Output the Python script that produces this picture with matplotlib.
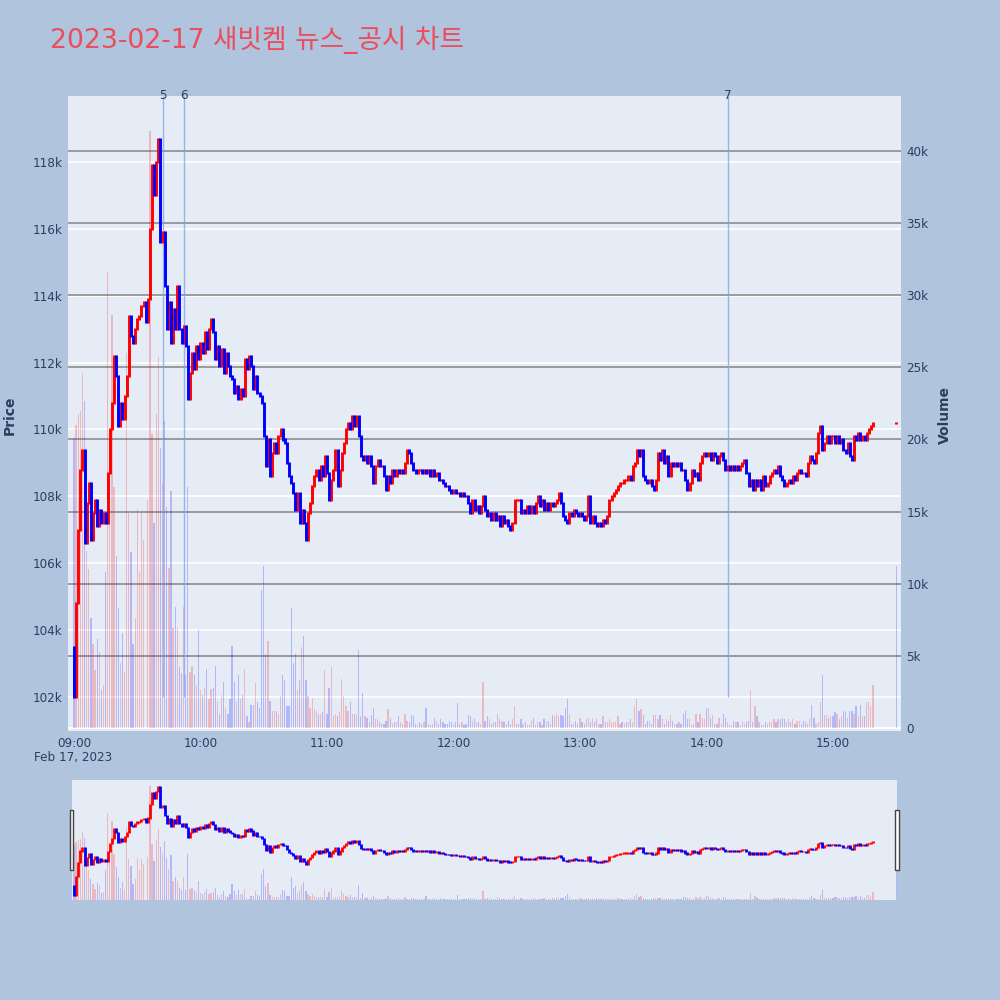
import matplotlib
matplotlib.use('Agg')
import matplotlib.pyplot as plt
from matplotlib.patches import Rectangle
import numpy as np
import pandas as pd

plt.rcParams['font.family'] = ['DejaVu Sans', 'Noto Sans CJK KR']

title = '2023-02-17 새빗켐 뉴스_공시 차트'

# 1-minute closes from 09:00 to 15:19 (in thousand won), then the 15:30 auction
closes_k = [
    102.0, 104.8, 107.0, 108.8, 109.4, 106.6, 107.8, 108.4, 106.7, 107.5,
    107.9, 107.1, 107.6, 107.2, 107.5, 107.2, 108.7, 110.0, 110.8, 112.2,
    111.6, 110.1, 110.8, 110.3, 111.0, 111.6, 113.4, 112.8, 112.6, 113.0,
    113.3, 113.4, 113.7, 113.8, 113.2, 113.9, 116.0, 117.9, 117.0, 118.0,
    118.7, 115.6, 115.9, 114.3, 113.0, 113.8, 112.6, 113.6, 113.0, 114.3,
    113.0, 112.6, 113.1, 112.5, 110.9, 111.7, 112.3, 111.8, 112.5, 112.1,
    112.6, 112.3, 112.9, 112.4, 113.0, 113.3, 112.9, 112.1, 112.5, 111.9,
    112.4, 111.7, 112.3, 111.9, 111.6, 111.5, 111.1, 111.3, 110.9, 111.2,
    111.0, 112.1, 111.8, 112.2, 111.9, 111.2, 111.6, 111.1, 111.0, 110.8,
    109.8, 108.9, 109.7, 108.6, 109.3, 109.6, 109.3, 109.8, 110.0, 109.7,
    109.6, 109.0, 108.6, 108.4, 108.1, 107.6, 108.1, 107.2, 107.6, 107.2,
    106.7, 107.5, 107.8, 108.3, 108.6, 108.8, 108.5, 108.9, 108.6, 109.2,
    108.7, 107.9, 108.5, 108.8, 109.4, 108.3, 108.8, 109.3, 109.6, 110.0,
    110.2, 110.0, 110.4, 110.1, 110.4, 109.8, 109.2, 109.1, 109.2, 109.0,
    109.2, 108.9, 108.4, 108.9, 109.1, 108.9, 108.9, 108.6, 108.2, 108.6,
    108.4, 108.8, 108.6, 108.8, 108.7, 108.8, 108.7, 109.0, 109.4, 109.3,
    109.0, 108.8, 108.7, 108.8, 108.8, 108.7, 108.8, 108.7, 108.8, 108.6,
    108.8, 108.6, 108.7, 108.5, 108.5, 108.4, 108.3, 108.3, 108.2, 108.1,
    108.2, 108.1, 108.1, 108.0, 108.1, 108.0, 108.0, 107.8, 107.5, 107.9,
    107.6, 107.7, 107.5, 107.7, 108.0, 107.6, 107.4, 107.5, 107.3, 107.5,
    107.3, 107.4, 107.1, 107.4, 107.2, 107.3, 107.1, 107.0, 107.2, 107.9,
    107.9, 107.9, 107.5, 107.6, 107.5, 107.7, 107.5, 107.7, 107.5, 107.8,
    108.0, 107.7, 107.9, 107.6, 107.8, 107.6, 107.8, 107.7, 107.8, 107.9,
    108.1, 107.8, 107.4, 107.3, 107.2, 107.5, 107.4, 107.6, 107.5, 107.4,
    107.5, 107.4, 107.3, 107.4, 108.0, 107.2, 107.4, 107.2, 107.1, 107.2,
    107.1, 107.3, 107.2, 107.4, 107.9, 108.0, 108.1, 108.2, 108.3, 108.4,
    108.4, 108.5, 108.5, 108.6, 108.5, 108.9, 109.0, 109.4, 109.2, 109.4,
    108.6, 108.5, 108.4, 108.5, 108.3, 108.2, 108.5, 109.3, 109.1, 109.4,
    109.0, 109.2, 108.6, 109.0, 108.9, 109.0, 108.9, 109.0, 108.8, 108.8,
    108.5, 108.2, 108.4, 108.8, 108.6, 108.7, 108.5, 109.0, 109.2, 109.3,
    109.2, 109.3, 109.1, 109.3, 109.2, 109.0, 109.2, 109.3, 109.1, 108.8,
    108.9, 108.8, 108.9, 108.8, 108.9, 108.8, 108.9, 109.0, 109.1, 108.7,
    108.3, 108.5, 108.2, 108.5, 108.3, 108.5, 108.2, 108.6, 108.3, 108.4,
    108.6, 108.7, 108.8, 108.7, 108.9, 108.6, 108.5, 108.3, 108.4, 108.5,
    108.4, 108.6, 108.5, 108.7, 108.8, 108.7, 108.7, 108.6, 109.0, 109.2,
    109.1, 109.0, 109.3, 109.9, 110.1, 109.4, 109.6, 109.8, 109.6, 109.8,
    109.8, 109.6, 109.8, 109.6, 109.7, 109.4, 109.3, 109.6, 109.2, 109.1,
    109.8, 109.7, 109.9, 109.7, 109.8, 109.7, 109.9, 110.0, 110.1, 110.2,
    110.2,
]
first_open_k = 103.5

# volume per minute (thousand shares), same order as closes
volume_k = [
    20.0, 21.0, 21.8, 22.0, 24.6, 22.7, 12.3, 11.0, 7.6, 5.8,
    4.0, 6.2, 5.3, 2.6, 3.0, 10.8, 31.6, 20.0, 28.6, 16.7,
    11.9, 8.3, 4.5, 6.6, 3.9, 26.0, 14.9, 12.2, 5.8, 7.6,
    15.2, 10.8, 15.0, 13.0, 0.0, 15.8, 41.4, 20.4, 14.2, 21.8,
    25.7, 19.4, 17.0, 21.3, 15.3, 11.1, 16.4, 6.9, 8.4, 6.9,
    4.2, 3.8, 8.4, 3.7, 16.7, 3.9, 4.3, 3.7, 3.0, 6.8,
    2.6, 2.3, 2.8, 4.1, 2.0, 2.7, 2.8, 4.3, 1.8, 1.0,
    2.3, 3.2, 1.4, 1.0, 2.0, 5.7, 3.2, 1.8, 3.7, 2.0,
    2.3, 4.1, 0.8, 0.4, 1.6, 1.6, 3.1, 1.8, 1.4, 9.6,
    11.2, 5.1, 6.0, 1.9, 1.2, 1.2, 1.2, 1.0, 2.2, 3.7,
    3.3, 1.5, 1.5, 8.3, 4.5, 5.1, 2.6, 3.3, 5.6, 6.4,
    3.3, 2.2, 1.4, 2.1, 1.3, 1.2, 1.0, 1.0, 1.1, 4.0,
    1.0, 2.8, 4.2, 0.8, 1.0, 0.8, 1.1, 3.4, 2.2, 1.5,
    1.2, 1.8, 1.0, 1.0, 1.0, 5.4, 0.8, 2.4, 0.8, 0.7,
    0.4, 0.9, 1.4, 0.6, 0.6, 0.4, 0.3, 0.3, 0.5, 1.3,
    0.7, 0.3, 0.4, 0.4, 0.8, 0.4, 0.3, 1.0, 0.5, 0.4,
    0.9, 0.8, 0.3, 0.2, 0.4, 0.3, 0.4, 1.4, 0.3, 0.2,
    0.3, 0.7, 0.5, 0.3, 0.6, 0.4, 0.3, 0.3, 0.5, 0.4,
    0.3, 0.4, 1.7, 0.3, 0.4, 0.2, 0.3, 0.9, 0.8, 0.5,
    0.6, 0.4, 0.4, 0.3, 3.2, 0.5, 0.8, 0.6, 0.3, 0.4,
    0.4, 1.0, 0.6, 0.5, 0.4, 0.3, 0.5, 0.3, 0.6, 1.5,
    0.3, 0.3, 0.6, 0.3, 0.4, 0.2, 0.2, 0.5, 0.7, 0.2,
    0.4, 0.4, 0.2, 0.6, 0.4, 0.5, 0.3, 0.9, 0.8, 1.0,
    0.8, 0.9, 0.8, 1.4, 2.0, 1.0, 0.3, 0.3, 0.5, 0.3,
    0.7, 0.4, 0.3, 0.6, 0.7, 0.4, 0.7, 0.4, 0.6, 0.3,
    0.3, 0.8, 0.4, 0.4, 0.6, 0.4, 0.4, 0.4, 0.8, 0.3,
    0.4, 0.3, 0.4, 0.4, 0.6, 0.4, 1.5, 2.0, 1.2, 1.3,
    0.9, 0.3, 0.5, 0.5, 0.3, 0.9, 0.9, 0.6, 0.9, 0.6,
    0.3, 0.6, 0.5, 0.9, 0.5, 0.3, 0.3, 0.4, 0.3, 1.0,
    1.2, 0.6, 0.6, 0.2, 0.3, 1.0, 0.4, 1.0, 0.7, 0.6,
    1.4, 1.4, 0.7, 0.9, 0.3, 0.3, 0.7, 0.3, 1.0, 0.7,
    0.4, 0.2, 0.2, 0.5, 0.4, 0.4, 0.2, 0.5, 0.3, 0.4,
    0.5, 2.6, 0.4, 1.5, 0.8, 0.4, 0.2, 0.2, 0.4, 0.3,
    0.4, 0.4, 0.6, 0.4, 0.6, 0.6, 0.7, 0.6, 0.4, 0.6,
    0.4, 0.6, 0.3, 0.5, 0.5, 0.3, 0.5, 0.4, 0.3, 0.6,
    1.6, 0.7, 0.3, 0.4, 1.8, 3.7, 0.9, 0.9, 0.7, 0.8,
    0.8, 1.1, 1.0, 0.6, 0.8, 1.2, 1.1, 0.7, 1.2, 1.2,
    1.0, 1.5, 0.9, 1.6, 0.8, 0.8, 1.8, 1.8, 1.5, 3.0,
    11.2,
]

# news / disclosure markers
news_labels = ['5', '6', '7']
news_times = ['09:42', '09:52', '14:10']

day = '2023-02-17'
times = list(pd.date_range(day + ' 09:00', periods=len(closes_k) - 1, freq='1min'))
times.append(pd.Timestamp(day + ' 15:30'))
times = pd.DatetimeIndex(times)

close = np.array(closes_k) * 1000
opn = np.concatenate([[first_open_k * 1000], close[:-1]])
vol = np.array(volume_k) * 1000
up = close >= opn
vol_up = close > opn

RED, BLUE = '#ff0000', '#0000ff'
PAPER, PLOTBG = '#b0c4de', '#e5ecf6'
TXT = '#2a3f5f'
FS = 8.64

fig = plt.figure(figsize=(10, 10), dpi=100, facecolor=PAPER)


def t(minutes):
    return pd.Timestamp(day + ' 09:00') + pd.Timedelta(minutes=minutes)


# ---------- main chart ----------
P_LO, P_HI = 100983, 119972
V_LO, V_HI = -208, 43810

ax = fig.add_axes([0.068, 0.269, 0.833, 0.635])
axv = ax.twinx()
axv.patch.set_visible(True)
axv.set_facecolor(PLOTBG)
ax.set_zorder(axv.get_zorder() + 1)
ax.patch.set_visible(False)

ax.set_xlim(t(-2.85), t(392.3))
ax.set_ylim(P_LO, P_HI)
axv.set_ylim(V_LO, V_HI)

# price grid, placed on the volume axes so it sits behind the bars
for p in range(102000, 120000, 2000):
    frac = (p - P_LO) / (P_HI - P_LO)
    axv.axhline(V_LO + frac * (V_HI - V_LO), color='white', lw=1.2, zorder=0)

# volume bars
bar_w = 0.6 / 1440
axv.bar(times[vol_up], vol[vol_up], width=bar_w, color=RED, alpha=0.22, zorder=2)
axv.bar(times[~vol_up], vol[~vol_up], width=bar_w, color=BLUE, alpha=0.22, zorder=2)
for v in range(5000, 45000, 5000):
    axv.axhline(v, color='#8c8c8c', lw=1.2, zorder=1)
axv.axhline(0, color='white', lw=1.5, zorder=1)

# candles (body plus the outline plotly draws around it)
pad = 30
lo = np.minimum(opn, close) - pad
hi = np.maximum(opn, close) + pad
ax.vlines(times[up], lo[up], hi[up], color=RED, lw=2.1, capstyle='butt', zorder=3)
ax.vlines(times[~up], lo[~up], hi[~up], color=BLUE, lw=2.1, capstyle='butt', zorder=3)

# news lines
for lab, tm in zip(news_labels, news_times):
    xt = pd.Timestamp(day + ' ' + tm)
    ax.vlines(xt, 102000, P_HI, color='#8aa2ea', lw=1, alpha=0.8, zorder=2)
    ax.text(xt, P_HI, lab, color=TXT, fontsize=FS, ha='center', va='center')

# axes styling
for a in (ax, axv):
    for s in a.spines.values():
        s.set_visible(False)
ax.set_yticks(range(102000, 120000, 2000))
ax.set_yticklabels([f'{p // 1000}k' for p in range(102000, 120000, 2000)])
axv.set_yticks(range(0, 45000, 5000))
axv.set_yticklabels(['0'] + [f'{v // 1000}k' for v in range(5000, 45000, 5000)])
ax.tick_params(axis='y', length=0, pad=4, labelcolor=TXT, labelsize=FS)
axv.tick_params(axis='y', length=0, pad=4, labelcolor=TXT, labelsize=FS)

xt_list = [pd.Timestamp(day + f' {h:02d}:00') for h in range(9, 16)]
ax.set_xticks(xt_list)
ax.set_xticklabels([x.strftime('%H:%M') for x in xt_list])
ax.tick_params(axis='x', length=0, pad=4, labelcolor=TXT, labelsize=FS)
fig.text(0.073, 1 - 0.757, 'Feb 17, 2023', color=TXT, fontsize=FS, ha='center', va='center')

fig.text(0.010, 1 - 0.415, 'Price', color=TXT, fontsize=10, fontweight='bold',
         rotation=90, ha='center', va='center')
fig.text(0.945, 1 - 0.415, 'Volume', color=TXT, fontsize=10, fontweight='bold',
         rotation=90, ha='center', va='center')

fig.text(0.050, 1 - 0.040, title, color='#eb4d5c', fontsize=19.2, ha='left', va='center')

# ---------- range slider ----------
sl = fig.add_axes([0.072, 0.100, 0.825, 0.120])
slv = sl.twinx()
slv.patch.set_visible(True)
slv.set_facecolor(PLOTBG)
sl.set_zorder(slv.get_zorder() + 1)
sl.patch.set_visible(False)
sl.set_xlim(t(-0.95), t(390.4))
sl.set_ylim(101230, 119780)
slv.set_ylim(0, 43600)
slv.bar(times[vol_up], vol[vol_up], width=bar_w, color=RED, alpha=0.22)
slv.bar(times[~vol_up], vol[~vol_up], width=bar_w, color=BLUE, alpha=0.22)
sl.vlines(times[up], lo[up] - 60, hi[up] + 60, color=RED, lw=2.0, capstyle='butt')
sl.vlines(times[~up], lo[~up] - 60, hi[~up] + 60, color=BLUE, lw=2.0, capstyle='butt')
for a in (sl, slv):
    a.set_xticks([])
    a.set_yticks([])
    for s in a.spines.values():
        s.set_visible(False)

# slider handles
for hx in (0.0695, 0.895):
    fig.patches.append(Rectangle((hx, 1 - 0.870), 0.0035, 0.060, transform=fig.transFigure,
                                 facecolor='white', edgecolor='#444444', lw=1))

fig.savefig('out.png', dpi=100, facecolor=PAPER)
